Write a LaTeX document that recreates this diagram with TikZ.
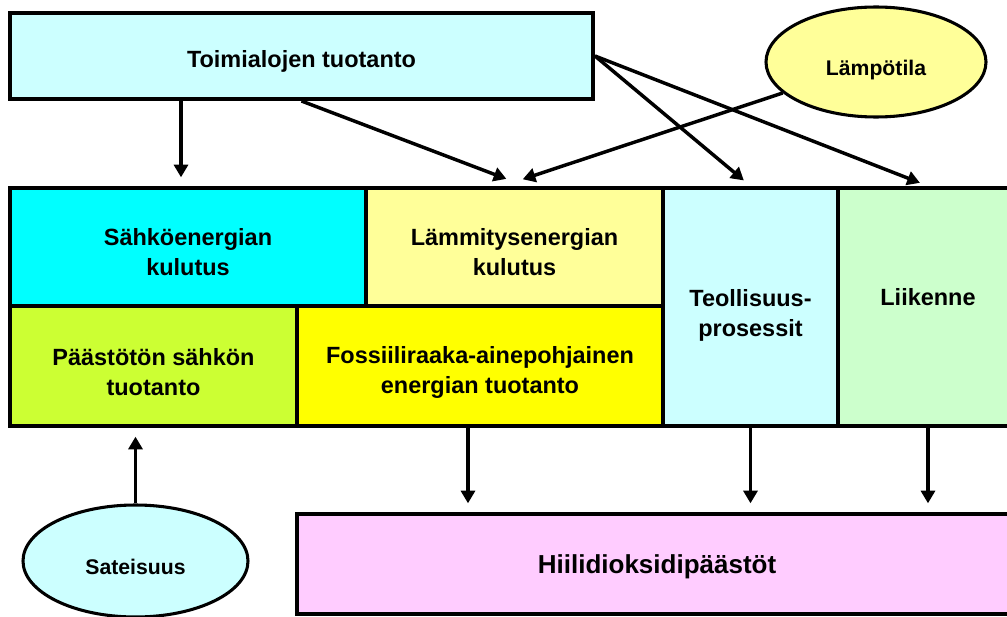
\documentclass[tikz,border=0pt]{standalone}
\usepackage{fontspec}
\setmainfont{Liberation Sans}
\usetikzlibrary{arrows.meta,calc,shapes.geometric}
\definecolor{vaaleasyaani}{HTML}{CCFFFF}
\definecolor{syaani}{HTML}{00FFFF}
\definecolor{vaaleankeltainen}{HTML}{FFFF99}
\definecolor{keltainen}{HTML}{FFFF00}
\definecolor{kellanvihrea}{HTML}{CCFF33}
\definecolor{vaaleanvihrea}{HTML}{CCFFCC}
\definecolor{vaaleanpunainen}{HTML}{FFCCFF}
\begin{document}
\begin{tikzpicture}[x=0.75pt,y=-0.75pt,font=\bfseries\fontsize{17.6}{22.5}\selectfont,>={Triangle[length=9.5pt,width=10.5pt]},
laatikko/.style args={#1/#2/#3}{draw,line width=3pt,fill=#1,minimum width=#2*0.75pt,minimum height=#3*0.75pt,inner sep=0pt,align=center,text height=20.5pt},
soikio/.style args={#1/#2/#3}{ellipse,draw,line width=2.3pt,fill=#1,minimum width=#2*0.75pt,minimum height=#3*0.75pt,inner sep=0pt,text height=23.5pt,text depth=3pt,font=\bfseries\fontsize{15.9}{19}\selectfont},
nuoli/.style={->,line width=2.6pt,shorten >=6.5pt}]
\useasboundingbox (0,0) rectangle (1007,617);
\node[laatikko={vaaleasyaani/583/86}] (toim) at (301.5,56) {Toimialojen tuotanto};
\node[soikio={vaaleankeltainen/220/110}] (lampo) at (876,62) {Lämpötila};
\node[laatikko={syaani/356/118},text height=42.8pt] (sahko) at (188,247) {Sähköenergian\\kulutus};
\node[laatikko={vaaleankeltainen/297/118},text height=42.8pt] (lammit) at (514.5,247) {Lämmitysenergian\\kulutus};
\node[laatikko={vaaleasyaani/175/238},text height=47.3pt] (teoll) at (750.5,307) {Teollisuus-\\prosessit};
\node[laatikko={vaaleanvihrea/180/238},text height=12.8pt,text depth=15pt] (liik) at (928,307) {Liikenne};
\node[laatikko={kellanvihrea/287/120},text height=45pt] (paast) at (153.5,366) {Päästötön sähkön\\tuotanto};
\node[laatikko={keltainen/366/120},text height=45pt] (fossiili) at (480,366) {Fossiiliraaka-ainepohjainen\\energian tuotanto};
\node[laatikko={vaaleanpunainen/720/100},font=\bfseries\fontsize{19.5}{23}\selectfont,text height=18.7pt] (hiili) at (657,564) {Hiilidioksidipäästöt};
\node[soikio={vaaleasyaani/225/112}] (sade) at (135.5,561) {Sateisuus};
\coordinate (fossiililta) at ($(fossiili.south)+(-12,0)$);
\draw[nuoli] ($(toim.south west)+(173,0)$) -- ($(sahko.north west)+(173,0)$);
\draw[nuoli] (toim.south) -- ([yshift=3pt]lammit.north);
\draw[nuoli] (lampo) -- ([yshift=3pt]lammit.north);
\draw[nuoli] (toim.east) -- (teoll.north);
\draw[nuoli] (toim.east) -- (liik.north);
\draw[nuoli] (sade) -- (sade.north |- paast.south);
\draw[nuoli] (fossiililta) -- (fossiililta |- hiili.north);
\draw[nuoli] (teoll.south) -- (teoll.south |- hiili.north);
\draw[nuoli] (liik.south) -- (liik.south |- hiili.north);
\end{tikzpicture}
\end{document}
